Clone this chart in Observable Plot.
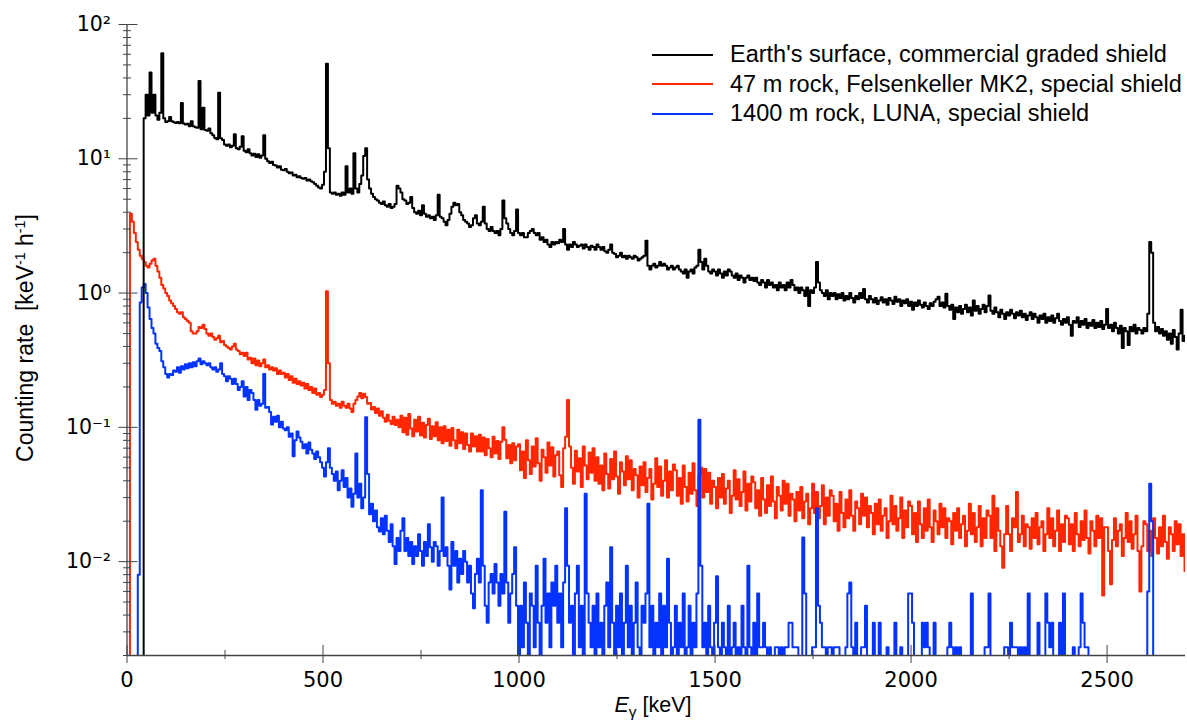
<!DOCTYPE html>
<html>
<head>
<meta charset="utf-8">
<script src="https://cdn.jsdelivr.net/npm/d3@7"></script>
<script src="https://cdn.jsdelivr.net/npm/@observablehq/plot@0.6"></script>
<style>
  body { margin: 0; background: #fff; }
  #wrap { position: relative; width: 1187px; height: 725px; overflow: hidden; }
  #legend { position: absolute; left: 652px; top: 40px; font-family: "Liberation Sans", Arial, sans-serif; font-size: 23.5px; color: #000; }
  #legend .row { display: flex; align-items: center; height: 29.5px; white-space: nowrap; }
  #legend .sw { width: 61px; height: 0; border-top: 2px solid; margin-right: 17px; }
  .axlabel { position: absolute; font-family: "Liberation Sans", Arial, sans-serif; color: #000; white-space: nowrap; }
  #ylab { left: 25px; top: 338px; font-size: 23px; transform: translate(-50%, -50%) rotate(-90deg); }
  #xlab { left: 653px; top: 693px; font-size: 21.5px; transform: translateX(-50%); }
  sup { font-size: 0.62em; vertical-align: 0.55em; line-height: 0; }
  sub { font-size: 0.72em; vertical-align: -0.3em; line-height: 0; }
</style>
</head>
<body>
<div id="wrap">
  <div id="chart"></div>
  <div id="legend"></div>
  <div class="axlabel" id="ylab">Counting rate &nbsp;[keV<sup>-1</sup> h<sup>-1</sup>]</div>
  <div class="axlabel" id="xlab"><i>E</i><sub>γ</sub> [keV]</div>
</div>
<script>
// Spectra: counting rate [keV^-1 h^-1] in 5 keV bins starting at 0 keV (one row = 100 keV)
const binWidth = 5;

const blackRate = [
  0,0,0,0,0,0,0,0,0,20,30,21,44,22,30,21,19.5,22,61,20,
  18.8,19,20.5,19,18.7,18.5,18.8,18.4,26,18.3,18,18.2,17.5,19,17.5,17.2,17,38,16.6,24,
  16.4,16.2,16.8,15.5,15,14.3,14,31,14.2,13.8,12.8,12.5,12.8,12.2,12.5,15.2,12,11.8,12.3,14.7,
  11.5,11.2,11.8,11,10.6,10.9,10.3,10.8,10.2,10.6,15,10,9.6,9.3,9.5,9,8.9,8.6,8.8,8.3,
  8.2,8.4,8,7.8,7.9,7.5,7.6,7.3,7.4,7.2,7.1,7.2,6.9,7,6.8,6.7,6.5,6.3,6.1,6,
  6.4,8,51,12,5.6,5.5,5.6,5.4,5.5,5.3,5.6,5.4,8.8,5.6,6,5.5,11,6,5.6,6.5,
  7.5,10.5,12,7,6,5.5,5.2,5,4.9,4.7,4.6,4.8,4.5,4.4,4.6,4.3,4.4,4.6,6.3,6,
  5.6,5,4.9,4.6,4.7,5.2,4.3,4,3.9,4.1,3.8,4.5,3.9,3.7,3.8,3.6,3.7,3.5,3.8,5.4,
  3.7,3.6,3.4,3.2,3.5,3.9,4.4,4.7,4.5,4.6,4,3.8,3.5,3.4,3.3,3.1,3.2,3.6,3.8,3.3,
  3.2,3.4,4.4,3.3,3,2.9,3.1,2.9,2.8,2.9,2.7,3,4.9,3.6,3.3,3,2.8,2.7,2.9,4.2,
  2.8,2.7,2.8,2.6,2.6,2.8,2.9,3,2.8,2.7,2.8,2.5,2.6,2.4,2.5,2.3,2.2,2.4,2.3,2.4,
  2.35,2.5,2.4,3,2.3,2.1,2.3,2.2,2.4,2.3,2.2,2.25,2.3,2.15,2.3,2.2,2.1,2.25,2.2,2.1,
  2.3,2.2,2.1,2.2,2.05,2,2.1,2.3,2,1.95,1.85,1.9,2,1.85,1.9,1.8,1.9,1.85,1.8,1.9,
  1.85,1.75,1.8,1.85,1.9,2.45,1.6,1.5,1.6,1.65,1.55,1.6,1.7,1.6,1.65,1.6,1.5,1.55,1.6,1.5,
  1.55,1.6,1.5,1.45,1.4,1.5,1.3,1.45,1.5,1.4,1.55,1.6,2.1,1.7,1.5,1.8,1.6,1.45,1.4,1.5,
  1.45,1.35,1.5,1.4,1.3,1.45,1.35,1.5,1.45,1.35,1.3,1.4,1.25,1.35,1.3,1.2,1.3,1.35,1.25,1.3,
  1.23,1.3,1.2,1.15,1.25,1.2,1.1,1.25,1.15,1.2,1.1,1.15,1.05,1.2,1.1,1.15,1.05,1.2,1.1,1.25,
  1.15,1.05,1.1,1,1.1,1.05,0.95,1.1,0.8,1.05,1,1.1,1.7,1.2,1.05,1,0.95,1.05,0.9,1,
  0.95,1,0.9,0.98,0.92,1,0.88,0.95,0.9,1,0.92,0.85,0.95,0.9,1,0.92,1.07,0.9,0.85,0.95,
  0.9,0.85,0.92,0.83,0.88,0.93,0.85,0.9,0.82,0.92,0.88,0.83,0.94,0.86,0.9,0.8,0.88,0.84,0.9,0.8,
  0.86,0.75,0.85,0.8,0.88,0.82,0.78,0.85,0.8,0.76,0.84,0.8,0.86,0.9,0.94,0.8,0.85,0.78,0.99,0.8,
  0.75,0.82,0.64,0.78,0.72,0.8,0.7,0.76,0.82,0.72,0.78,0.68,0.88,0.74,0.8,0.7,0.76,0.82,0.72,0.8,
  0.96,0.74,0.7,0.78,0.72,0.66,0.75,0.7,0.64,0.72,0.68,0.75,0.7,0.65,0.72,0.68,0.74,0.66,0.7,0.63,
  0.68,0.72,0.64,0.7,0.66,0.6,0.68,0.64,0.7,0.6,0.66,0.62,0.68,0.6,0.65,0.7,0.62,0.58,0.64,0.6,
  0.66,0.58,0.48,0.62,0.6,0.66,0.56,0.62,0.58,0.64,0.55,0.6,0.57,0.63,0.55,0.6,0.56,0.62,0.54,0.58,
  0.76,0.55,0.58,0.52,0.6,0.55,0.5,0.57,0.39,0.55,0.52,0.41,0.56,0.52,0.58,0.5,0.55,0.53,0.5,0.55,
  0.52,0.7,2.4,2,0.6,0.52,0.56,0.5,0.54,0.48,0.52,0.45,0.5,0.42,0.53,0.47,0.38,0.5,0.75,0.44,
  0.48
];

const redRate = [
  0,0,3.9,3.4,2.8,2.4,2.1,1.9,1.8,1.7,1.6,1.55,1.65,1.75,1.8,1.6,1.45,1.3,1.15,1.08,
  1,0.95,0.88,0.84,0.8,0.76,0.72,0.7,0.72,0.66,0.64,0.62,0.6,0.52,0.5,0.5,0.52,0.56,0.55,0.58,
  0.54,0.5,0.48,0.5,0.47,0.45,0.46,0.48,0.43,0.44,0.41,0.4,0.39,0.38,0.4,0.42,0.38,0.37,0.35,0.36,
  0.34,0.36,0.32,0.33,0.3,0.325,0.29,0.315,0.285,0.3,0.32,0.28,0.29,0.27,0.28,0.265,0.275,0.25,0.265,0.25,
  0.255,0.235,0.25,0.225,0.24,0.215,0.23,0.21,0.22,0.205,0.215,0.195,0.21,0.19,0.2,0.18,0.195,0.175,0.18,0.168,
  0.175,0.19,1.03,0.3,0.16,0.15,0.155,0.145,0.15,0.14,0.155,0.145,0.14,0.15,0.138,0.13,0.15,0.16,0.17,0.18,
  0.165,0.178,0.168,0.15,0.152,0.136,0.142,0.128,0.138,0.122,0.132,0.118,0.11,0.124,0.112,0.106,0.12,0.104,0.114,0.1,
  0.122,0.092,0.118,0.088,0.126,0.098,0.086,0.114,0.093,0.12,0.087,0.108,0.084,0.104,0.116,0.082,0.102,0.086,0.109,0.08,
  0.1,0.076,0.102,0.079,0.096,0.073,0.099,0.08,0.07,0.096,0.076,0.092,0.069,0.09,0.074,0.066,0.09,0.072,0.086,0.066,
  0.088,0.066,0.084,0.062,0.082,0.07,0.06,0.085,0.064,0.079,0.058,0.078,0.1,0.081,0.059,0.074,0.054,0.076,0.057,0.072,
  0.075,0.048,0.066,0.042,0.08,0.057,0.045,0.072,0.051,0.083,0.054,0.04,0.068,0.06,0.046,0.077,0.052,0.071,0.043,0.062,
  0.066,0.044,0.036,0.07,0.085,0.16,0.072,0.05,0.038,0.067,0.047,0.059,0.036,0.072,0.052,0.041,0.065,0.046,0.07,0.04,
  0.06,0.038,0.052,0.034,0.064,0.045,0.035,0.058,0.041,0.066,0.043,0.032,0.055,0.047,0.037,0.061,0.041,0.057,0.034,0.049,
  0.044,0.03,0.051,0.037,0.055,0.033,0.042,0.049,0.029,0.038,0.059,0.036,0.051,0.031,0.04,0.057,0.03,0.047,0.034,0.053,
  0.048,0.031,0.042,0.027,0.052,0.036,0.028,0.046,0.032,0.054,0.034,0.026,0.044,0.05,0.03,0.049,0.033,0.046,0.027,0.04,
  0.036,0.025,0.042,0.03,0.045,0.027,0.035,0.04,0.023,0.031,0.048,0.029,0.041,0.026,0.033,0.047,0.024,0.038,0.028,0.043,
  0.039,0.025,0.034,0.022,0.042,0.029,0.023,0.037,0.026,0.043,0.028,0.021,0.036,0.031,0.024,0.04,0.027,0.038,0.022,0.032,
  0.029,0.02,0.033,0.024,0.036,0.021,0.028,0.032,0.019,0.025,0.038,0.023,0.033,0.021,0.026,0.037,0.019,0.03,0.022,0.034,
  0.031,0.02,0.027,0.017,0.033,0.023,0.018,0.029,0.021,0.034,0.022,0.017,0.028,0.025,0.019,0.032,0.022,0.03,0.018,0.026,
  0.023,0.016,0.027,0.019,0.029,0.017,0.022,0.025,0.015,0.02,0.031,0.019,0.026,0.017,0.021,0.03,0.015,0.024,0.018,0.028,
  0.026,0.016,0.023,0.014,0.028,0.019,0.015,0.025,0.017,0.029,0.018,0.014,0.024,0.02,0.016,0.027,0.018,0.025,0.015,0.021,
  0.02,0.0135,0.023,0.017,0.025,0.015,0.019,0.022,0.013,0.017,0.027,0.016,0.023,0.014,0.018,0.026,0.013,0.021,0.015,0.024,
  0.022,0.015,0.031,0.012,0.025,0.017,0.013,0.009,0.016,0.026,0.016,0.012,0.021,0.018,0.033,0.014,0.016,0.022,0.013,0.019,
  0.018,0.0125,0.021,0.015,0.023,0.0135,0.018,0.02,0.012,0.016,0.025,0.015,0.021,0.013,0.017,0.024,0.012,0.019,0.014,0.022,
  0.021,0.0135,0.019,0.012,0.023,0.016,0.013,0.02,0.0145,0.024,0.015,0.0115,0.02,0.017,0.013,0.022,0.015,0.021,0.0056,0.018,
  0.018,0.012,0.0068,0.0145,0.021,0.013,0.017,0.019,0.011,0.015,0.023,0.014,0.02,0.0125,0.016,0.022,0.012,0.006,0.013,0.02,
  0.019,0.012,0.017,0.011,0.021,0.015,0.0115,0.018,0.013,0.022,0.014,0.0105,0.018,0.016,0.012,0.02,0.0135,0.019,0.011,0.016,
  0.0085
];

const blueRate = [
  0,0,0,0,0,0,0.008,0.85,1.1,1.17,1,0.78,0.64,0.55,0.5,0.42,0.39,0.37,0.31,0.28,
  0.25,0.235,0.25,0.245,0.265,0.26,0.28,0.255,0.285,0.27,0.295,0.275,0.3,0.28,0.305,0.285,0.31,0.325,0.295,0.31,
  0.3,0.29,0.3,0.28,0.27,0.28,0.26,0.27,0.3,0.25,0.24,0.22,0.24,0.23,0.21,0.23,0.21,0.19,0.2,0.22,
  0.17,0.2,0.16,0.19,0.18,0.16,0.135,0.16,0.145,0.15,0.25,0.14,0.142,0.13,0.105,0.12,0.11,0.122,0.1,0.11,
  0.098,0.095,0.1,0.085,0.09,0.061,0.08,0.093,0.084,0.078,0.07,0.075,0.064,0.077,0.068,0.064,0.058,0.066,0.06,0.055,
  0.05,0.043,0.055,0.07,0.05,0.045,0.04,0.047,0.034,0.04,0.048,0.036,0.042,0.03,0.035,0.0256,0.032,0.064,0.03,0.038,
  0.025,0.03,0.119,0.045,0.0225,0.027,0.02,0.024,0.018,0.0168,0.021,0.016,0.022,0.017,0.014,0.019,0.013,0.0096,0.015,0.012,
  0.017,0.021,0.012,0.015,0.011,0.014,0.0096,0.013,0.011,0.016,0.012,0.0093,0.014,0.011,0.019,0.0128,0.01,0.014,0.013,0.0093,
  0.012,0.03,0.011,0.0128,0.0093,0.0062,0.014,0.0093,0.012,0.007,0.0105,0.0081,0.012,0.01,0.007,0.0093,0.0058,0.0045,0.0081,0.0105,
  0.007,0.034,0.0093,0.0047,0.0035,0.007,0.0081,0.0058,0.0096,0.007,0.0047,0.0081,0.0058,0.0235,0.007,0.0035,0.0058,0.0081,0.0128,0.0047,
  0,0.0047,0.0023,0.007,0.0035,0,0.0058,0.0047,0.0023,0.0093,0.0035,0,0.0047,0.0105,0.0035,0.0058,0.0023,0.007,0.0047,0.0093,
  0.0035,0.0058,0.0023,0.007,0.025,0.0093,0.0035,0.0047,0,0.0058,0.0093,0.0023,0.0047,0,0.032,0.0058,0.0035,0.0023,0.0047,0,
  0.0058,0.0023,0.0035,0,0.0047,0.007,0.0023,0.0128,0.0035,0,0.0047,0.0023,0.0058,0,0.0035,0.0093,0.0023,0.0047,0,0.0035,
  0.007,0.0023,0,0.0047,0.0035,0.0058,0.027,0.0023,0.0047,0,0.0035,0.0023,0.0058,0,0.0047,0.0023,0.0105,0.0035,0,0.0023,
  0.0047,0,0.0035,0.0023,0.0058,0,0.0023,0.0047,0,0.0035,0.0023,0.0058,0.114,0.0093,0.0023,0.0035,0,0.0047,0.0023,0,
  0.0035,0.0078,0.0023,0,0.0035,0.0023,0,0.0047,0,0.0023,0.0035,0,0.0023,0,0.0047,0.0023,0,0.0093,0.0023,0,
  0.0035,0,0.0058,0.0023,0.0023,0.0035,0.0023,0,0.0023,0,0,0.0023,0.0023,0,0.0023,0,0.0023,0.0023,0.0035,0.0035,
  0.0023,0.0023,0.0023,0,0,0.0151,0.0058,0,0,0,0.0023,0.0023,0.025,0.0047,0.0035,0.0023,0.0023,0,0.0023,0.0023,
  0,0.0023,0.0023,0.0023,0,0,0,0.0023,0.0058,0.007,0.0023,0,0.0035,0,0,0.0023,0.0023,0.0047,0,0,
  0,0.0035,0,0,0.0035,0,0,0,0.0023,0,0,0,0.0035,0,0,0.0023,0,0,0,0.0058,
  0.0058,0.0035,0,0,0,0,0.0035,0.0023,0.0035,0.0023,0,0,0.0035,0,0,0,0,0,0,0.0023,
  0.0035,0.0023,0,0.0023,0,0.0023,0,0,0,0,0,0.0058,0,0,0,0,0,0,0.0023,0.0023,
  0.0058,0,0,0,0,0,0,0,0.0023,0.0023,0,0.0035,0.0023,0.0023,0.0023,0,0.0023,0,0.0023,0,
  0.0058,0,0,0,0,0.0035,0,0,0,0.0058,0.0035,0.0023,0.0035,0,0,0,0.0035,0,0.0058,0,
  0,0,0,0.0023,0,0,0.0023,0.0058,0.0035,0.0023,0.0023,0,0,0,0,0,0,0,0,0,
  0,0,0,0,0,0,0,0,0,0,0,0,0,0,0,0,0,0,0,0,
  0,0.006,0.038,0.02,0,0,0,0,0,0,0,0,0,0,0,0,0,0,0,0,
  0
];

const seriesNames = [
  "Earth's surface, commercial graded shield",
  "47 m rock, Felsenkeller MK2, special shield",
  "1400 m rock, LUNA, special shield"
];
const seriesColors = ["#000000", "#ff2600", "#0433ff"];

const xDomain = [0, 2700];
const yDomain = [0.002, 100];
const xMajorTicks = [0, 500, 1000, 1500, 2000, 2500];
const xMinorTicks = [250, 750, 1250, 1750, 2250];
const yMajorTicks = [0.01, 0.1, 1, 10, 100];
const yMajorLabels = ["10⁻²", "10⁻¹", "10⁰", "10¹", "10²"];
const yMinorTicks = [
  0.002, 0.003, 0.004, 0.005, 0.006, 0.007, 0.008, 0.009,
  0.02, 0.03, 0.04, 0.05, 0.06, 0.07, 0.08, 0.09,
  0.2, 0.3, 0.4, 0.5, 0.6, 0.7, 0.8, 0.9,
  2, 3, 4, 5, 6, 7, 8, 9,
  20, 30, 40, 50, 60, 70, 80, 90
];

// ---- build table ----
const belowAxis = 0.0015; // empty bins are drawn below the frame and clipped
const rowsOf = (rates, s) => rates.map((v, i) => ({E: i * binWidth, rate: v, series: seriesNames[s]}));
const yOf = d => (d.rate > 0 ? d.rate : belowAxis);
const axisColor = "#444";

const lineOpts = (s) => ({x: "E", y: yOf, stroke: seriesColors[s], strokeWidth: 2, curve: "step", clip: true});

const chart = Plot.plot({
  width: 1187,
  height: 725,
  marginLeft: 126.5,
  marginRight: 2,
  marginTop: 24,
  marginBottom: 70,
  style: {fontFamily: "'DejaVu Sans', sans-serif", fontSize: "20px", background: "#fff", color: "#000"},
  x: {domain: xDomain, label: null},
  y: {type: "log", domain: yDomain, label: null},
  marks: [
    Plot.line(rowsOf(redRate, 1), lineOpts(1)),
    Plot.line(rowsOf(blueRate, 2), lineOpts(2)),
    Plot.line(rowsOf(blackRate, 0), lineOpts(0)),
    Plot.ruleX([xDomain[0]], {stroke: axisColor, strokeWidth: 1.3}),
    Plot.ruleY([yDomain[0]], {stroke: axisColor, strokeWidth: 1.3}),
    Plot.axisY({ticks: yMinorTicks, anchor: "left", tickSize: 8, dx: 4.5, tickFormat: () => "", stroke: axisColor, label: null}),
    Plot.axisY({ticks: yMajorTicks, anchor: "left", tickSize: 19, dx: 11, tickPadding: 8,
      tickFormat: d => yMajorLabels[yMajorTicks.indexOf(d)], stroke: axisColor, fontSize: 20.5, label: null}),
    Plot.axisX({ticks: xMinorTicks, anchor: "bottom", tickSize: 9, dy: -5, tickFormat: () => "", stroke: axisColor, label: null}),
    Plot.axisX({ticks: xMajorTicks, anchor: "bottom", tickSize: 18, dy: -10, tickPadding: 9,
      tickFormat: d => String(d), fontSize: 21, stroke: axisColor, label: null})
  ]
});
document.getElementById("chart").appendChild(chart);

// ---- legend ----
const legend = document.getElementById("legend");
seriesNames.forEach((name, s) => {
  const row = document.createElement("div");
  row.className = "row";
  const sw = document.createElement("span");
  sw.className = "sw";
  sw.style.borderTopColor = seriesColors[s];
  const tx = document.createElement("span");
  tx.textContent = name;
  row.appendChild(sw);
  row.appendChild(tx);
  legend.appendChild(row);
});
</script>
</body>
</html>
